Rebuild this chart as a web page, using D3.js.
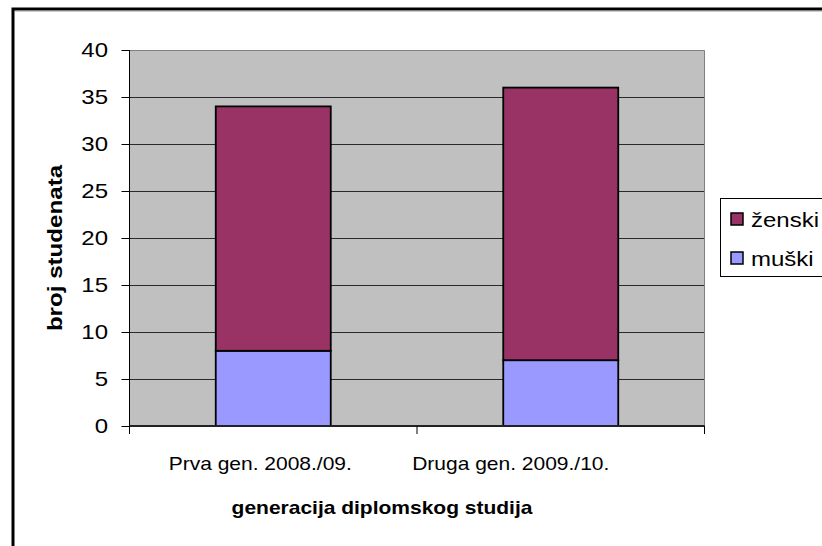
<!DOCTYPE html>
<html>
<head>
<meta charset="utf-8">
<script src="https://cdn.jsdelivr.net/npm/d3@7"></script>
<style>
  body { margin: 0; background: #fff; }
  svg { display: block; font-family: "Liberation Sans", Arial, sans-serif; }
</style>
</head>
<body>
<svg width="822" height="546"></svg>
<script>
// podaci
var categories = ["Prva gen. 2008./09.", "Druga gen. 2009./10."];
var muski = [8, 7];
var zenski = [26, 29];
var seriesNames = ["ženski", "muški"];
var yTicks = [0, 5, 10, 15, 20, 25, 30, 35, 40];

var COLORS = { "muški": "#9999ff", "ženski": "#993366" };

var svg = d3.select("svg");
var SX = 1.2; // tekst je malo rastegnut vodoravno

// okvir
svg.append("path")
    .attr("d", "M13,546 L13,9 L822,9")
    .attr("fill", "none")
    .attr("stroke", "#000")
    .attr("stroke-width", 3);
svg.append("line")
    .attr("x1", 15).attr("x2", 822).attr("y1", 11.5).attr("y2", 11.5)
    .attr("stroke", "#ccc").attr("stroke-width", 1);

// područje grafa (window.top je zauzet, pa plotTop)
var plotLeft = 129.5, plotRight = 704.5, plotTop = 50, plotBottom = 426;

var x = d3.scaleBand()
    .domain(categories)
    .range([plotLeft, plotRight])
    .paddingInner(0.6)
    .paddingOuter(0.3);

var y = d3.scaleLinear()
    .domain([0, 40])
    .range([plotBottom, plotTop]);

svg.append("rect")
    .attr("x", plotLeft).attr("y", plotTop)
    .attr("width", plotRight - plotLeft).attr("height", plotBottom - plotTop)
    .attr("fill", "#c0c0c0");

// mreža
svg.append("g").selectAll("line")
    .data(yTicks.filter(function(d){ return d > 0 && d < 40; }))
    .enter().append("line")
    .attr("x1", plotLeft).attr("x2", plotRight)
    .attr("y1", function(d){ return Math.round(y(d)) + 0.5; })
    .attr("y2", function(d){ return Math.round(y(d)) + 0.5; })
    .attr("stroke", "#2a2a2a")
    .attr("stroke-width", 1);

// gornji i desni rub
svg.append("path")
    .attr("d", "M" + plotLeft + "," + (plotTop + 0.5) + " L" + plotRight + "," + (plotTop + 0.5) + " L" + plotRight + "," + plotBottom)
    .attr("fill", "none")
    .attr("stroke", "#808080")
    .attr("stroke-width", 1);

// stupci
var stack = d3.stack().keys(["muški", "ženski"]);
var rows = categories.map(function(c, i){
    return { cat: c, "muški": muski[i], "ženski": zenski[i] };
});
var layers = stack(rows);

svg.append("g").selectAll("g")
    .data(layers)
    .enter().append("g")
    .attr("fill", function(d){ return COLORS[d.key]; })
    .selectAll("rect")
    .data(function(d){ return d; })
    .enter().append("rect")
    .attr("x", function(d){ return x(d.data.cat); })
    .attr("width", x.bandwidth())
    .attr("y", function(d){ return y(d[1]); })
    .attr("height", function(d){ return y(d[0]) - y(d[1]); })
    .attr("stroke", "#000")
    .attr("stroke-width", 1.8);

// osi
svg.append("line")
    .attr("x1", plotLeft).attr("x2", plotLeft).attr("y1", plotTop).attr("y2", plotBottom + 8)
    .attr("stroke", "#000").attr("stroke-width", 1);
svg.append("line")
    .attr("x1", plotLeft).attr("x2", plotRight).attr("y1", plotBottom).attr("y2", plotBottom)
    .attr("stroke", "#222").attr("stroke-width", 2);

// y oznake
var gy = svg.append("g");
gy.selectAll("line")
    .data(yTicks)
    .enter().append("line")
    .attr("x1", plotLeft - 8).attr("x2", plotLeft)
    .attr("y1", function(d){ return Math.round(y(d)) + 0.5; })
    .attr("y2", function(d){ return Math.round(y(d)) + 0.5; })
    .attr("stroke", "#000");
gy.selectAll("text")
    .data(yTicks)
    .enter().append("text")
    .attr("transform", function(d){ return "translate(108," + y(d) + ") scale(" + SX + ",1)"; })
    .attr("text-anchor", "end")
    .attr("dy", "0.36em")
    .attr("font-size", 20)
    .text(function(d){ return d; });

// x oznake
var xEdges = [plotLeft].concat(categories.map(function(c){ return x(c) + x.bandwidth() + x.step() * x.paddingInner() / 2; }));
xEdges[xEdges.length - 1] = plotRight;
svg.append("g").selectAll("line")
    .data(xEdges)
    .enter().append("line")
    .attr("x1", function(d){ return d; }).attr("x2", function(d){ return d; })
    .attr("y1", plotBottom).attr("y2", plotBottom + 8)
    .attr("stroke", "#000");

var labelShift = [-13, -50];
svg.append("g").selectAll("text")
    .data(categories)
    .enter().append("text")
    .attr("transform", function(d, i){
        return "translate(" + (x(d) + x.bandwidth() / 2 + labelShift[i]) + ",470) scale(" + SX + ",1)";
    })
    .attr("text-anchor", "middle")
    .attr("font-size", 17.5)
    .text(function(d){ return d; });

// naslovi osi
svg.append("text")
    .attr("transform", "translate(" + ((plotLeft + plotRight) / 2 - 35) + ",514) scale(" + SX + ",1)")
    .attr("text-anchor", "middle")
    .attr("font-size", 17.5)
    .attr("font-weight", "bold")
    .text("generacija diplomskog studija");

svg.append("text")
    .attr("transform", "translate(62," + ((plotTop + plotBottom) / 2 + 10) + ") rotate(-90) scale(1.15,1)")
    .attr("text-anchor", "middle")
    .attr("font-size", 21)
    .attr("font-weight", "bold")
    .text("broj studenata");

// legenda
var lg = svg.append("g");
lg.append("rect")
    .attr("x", 720.5).attr("y", 198.5)
    .attr("width", 120).attr("height", 78)
    .attr("fill", "#fff")
    .attr("stroke", "#000")
    .attr("stroke-width", 1);
var items = lg.selectAll(".item")
    .data(seriesNames)
    .enter().append("g")
    .attr("class", "item")
    .attr("transform", function(d, i){ return "translate(731," + (213 + i * 39) + ")"; });
items.append("rect")
    .attr("width", 12).attr("height", 12)
    .attr("fill", function(d){ return COLORS[d]; })
    .attr("stroke", "#000")
    .attr("stroke-width", 1.5);
items.append("text")
    .attr("transform", "translate(20,13.5) scale(" + SX + ",1)")
    .attr("font-size", 20)
    .text(function(d){ return d; });
</script>
</body>
</html>
